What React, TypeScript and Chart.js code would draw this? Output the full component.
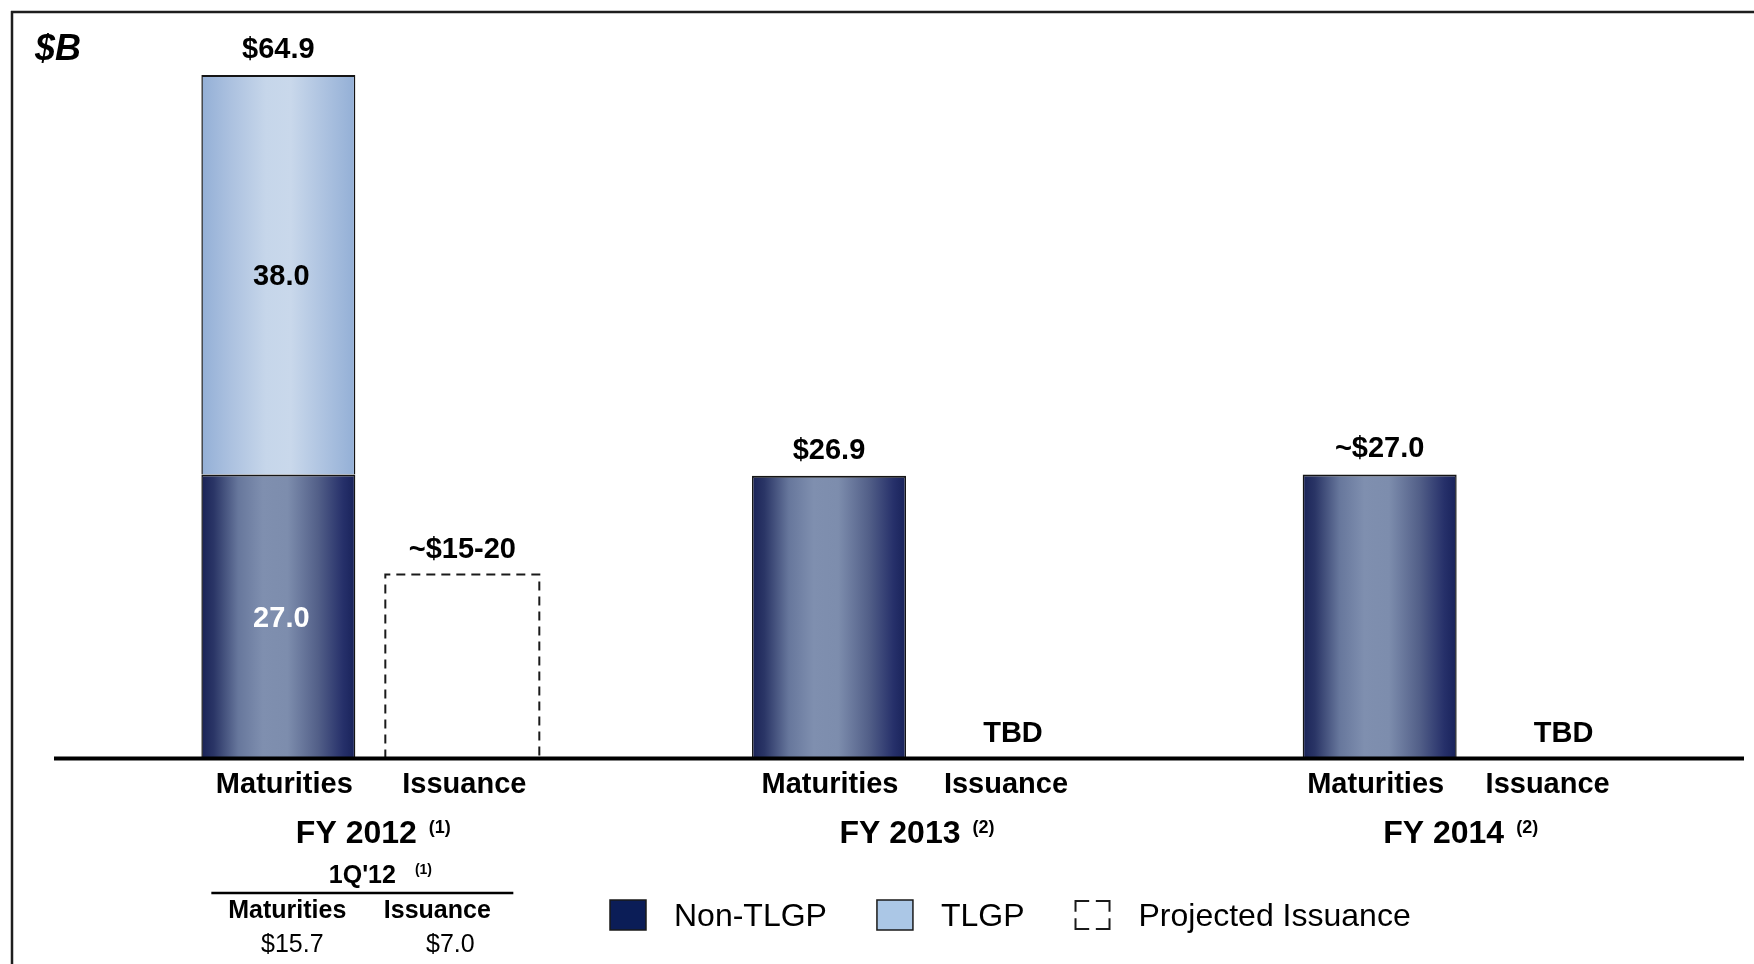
import React, { useEffect, useRef } from 'react';
import { Chart, registerables } from 'chart.js';

Chart.register(...registerables);

// ---- data ----
const groups = ['FY 2012', 'FY 2013', 'FY 2014'];
const groupNotes = ['(1)', '(2)', '(2)'];
const barNames = ['Maturities', 'Issuance'];
const nonTlgp = [27.0, 26.9, 27.0];
const tlgp: (number | null)[] = [38.0, null, null];
const projectedIssuance: (number | null)[] = [17.5, null, null];
const maturityTotals = ['$64.9', '$26.9', '~$27.0'];
const issuanceTexts = ['~$15-20', 'TBD', 'TBD'];
const nonTlgpTexts = ['27.0', '', ''];
const tlgpTexts = ['38.0', '', ''];
const legendNames = ['Non-TLGP', 'TLGP', 'Projected Issuance'];
const unitLabel = '$B';
const quarterTitle = "1Q'12";
const quarterNote = '(1)';
const quarterHeads = ['Maturities', 'Issuance'];
const quarterValues = ['$15.7', '$7.0'];

// ---- styling ----
const FONT = '"Liberation Sans", Arial, Helvetica, sans-serif';
const CAT_PCT = 0.6682;
const BAR_PCT = 0.837;
const NAVY_STOPS: [number, string][] = [
  [0, '#1a2357'],
  [0.08, '#2a3566'],
  [0.24, '#67779c'],
  [0.4, '#7f8faf'],
  [0.56, '#7d8dad'],
  [0.76, '#525f88'],
  [0.92, '#26306a'],
  [1, '#18225a'],
];
const SKY_STOPS: [number, string][] = [
  [0, '#93afd6'],
  [0.2, '#adc2e0'],
  [0.42, '#c6d6ea'],
  [0.58, '#c9d8eb'],
  [0.78, '#afc4e1'],
  [1, '#93afd6'],
];

function drawText(
  ctx: CanvasRenderingContext2D,
  str: string,
  x: number,
  cy: number,
  size: number,
  opts: { weight?: string; style?: string; color?: string; align?: CanvasTextAlign } = {}
) {
  const { weight = 'bold', style = 'normal', color = '#000', align = 'center' } = opts;
  ctx.font = `${style} ${weight} ${size}px ${FONT}`;
  ctx.fillStyle = color;
  ctx.textAlign = align;
  ctx.textBaseline = 'alphabetic';
  ctx.fillText(str, x, cy + size * 0.358);
}

function textWidth(ctx: CanvasRenderingContext2D, str: string, size: number, weight = 'bold') {
  ctx.font = `normal ${weight} ${size}px ${FONT}`;
  return ctx.measureText(str).width;
}

// Horizontal cylinder-style shading on the maturity bars
const barShade = {
  id: 'barShade',
  afterDatasetsUpdate(chart: any) {
    const ctx: CanvasRenderingContext2D = chart.ctx;
    [0, 1].forEach((di) => {
      const stops = di === 0 ? NAVY_STOPS : SKY_STOPS;
      chart.getDatasetMeta(di).data.forEach((el: any) => {
        const x = el.x;
        const w = el.width;
        if (!isFinite(x) || !w) return;
        const g = ctx.createLinearGradient(x - w / 2, 0, x + w / 2, 0);
        stops.forEach(([o, c]) => g.addColorStop(o, c));
        el.options = { ...el.options, backgroundColor: g };
      });
    });
  },
};

const annotations = {
  id: 'annotations',
  afterDatasetsDraw(chart: any) {
    const ctx: CanvasRenderingContext2D = chart.ctx;
    const xs = chart.scales.x;
    const ys = chart.scales.y;
    const base = ys.getPixelForValue(0);
    const mNon = chart.getDatasetMeta(0);
    const mTl = chart.getDatasetMeta(1);
    const mProj = chart.getDatasetMeta(2);

    ctx.save();

    // dashed outline for projected issuance
    mProj.data.forEach((el: any, i: number) => {
      if (projectedIssuance[i] == null) return;
      const l = el.x - el.width / 2;
      const r = el.x + el.width / 2;
      ctx.beginPath();
      ctx.setLineDash([9, 6]);
      ctx.lineWidth = 2;
      ctx.strokeStyle = '#1a1a1a';
      ctx.moveTo(l, base);
      ctx.lineTo(l, el.y);
      ctx.lineTo(r, el.y);
      ctx.lineTo(r, base);
      ctx.stroke();
    });
    ctx.setLineDash([]);

    // baseline
    ctx.beginPath();
    ctx.lineWidth = 4;
    ctx.strokeStyle = '#000';
    ctx.moveTo(54, base);
    ctx.lineTo(1744, base);
    ctx.stroke();

    groups.forEach((_, i) => {
      const nEl = mNon.data[i];
      const tEl = mTl.data[i];
      const pEl = mProj.data[i];

      // values above and inside the bars
      const topEl = tlgp[i] != null ? tEl : nEl;
      drawText(ctx, maturityTotals[i], nEl.x, topEl.y - 27.5, 29);
      if (nonTlgpTexts[i]) drawText(ctx, nonTlgpTexts[i], nEl.x + 3, (nEl.y + nEl.base) / 2, 29, { color: '#fff' });
      if (tlgpTexts[i] && tlgp[i] != null) drawText(ctx, tlgpTexts[i], tEl.x + 3, (tEl.y + tEl.base) / 2, 29);
      const pTop = projectedIssuance[i] != null ? pEl.y : base;
      drawText(ctx, issuanceTexts[i], pEl.x, pTop - 26.5, 29);

      // bar names under the axis (the label row is set slightly tighter than the bars)
      drawText(ctx, barNames[0], nEl.x + 6 - 5 * i, base + 24.5, 29);
      drawText(ctx, barNames[1], pEl.x + 2 - 9 * i, base + 24.5, 29);

      // group label with footnote marker
      const cx = xs.getPixelForValue(i) + 3 - 7 * i;
      const wMain = textWidth(ctx, groups[i], 32);
      const wNote = textWidth(ctx, groupNotes[i], 18);
      const gap = 12;
      const start = cx - (wMain + gap + wNote) / 2;
      drawText(ctx, groups[i], start, base + 73.5, 32, { align: 'left' });
      drawText(ctx, groupNotes[i], start + wMain + gap, base + 68, 18, { align: 'left' });
    });

    // first-quarter table under FY 2012
    const tc = xs.getPixelForValue(0) - 8;
    drawText(ctx, quarterTitle, tc, base + 115.5, 25);
    const wq = textWidth(ctx, quarterTitle, 25);
    drawText(ctx, quarterNote, tc + wq / 2 + 19, base + 110, 14, { align: 'left' });
    ctx.beginPath();
    ctx.lineWidth = 2.5;
    ctx.strokeStyle = '#000';
    ctx.moveTo(tc - 151, base + 134.5);
    ctx.lineTo(tc + 151, base + 134.5);
    ctx.stroke();
    drawText(ctx, quarterHeads[0], tc - 75, base + 150.5, 25);
    drawText(ctx, quarterHeads[1], tc + 75, base + 150.5, 25);
    drawText(ctx, quarterValues[0], tc - 70, base + 184.5, 25, { weight: 'normal' });
    drawText(ctx, quarterValues[1], tc + 88, base + 184.5, 25, { weight: 'normal' });

    // legend
    const ly = base + 156.5;
    let lx = 610;
    const bw = 36;
    const bh = 30;
    legendNames.forEach((name, k) => {
      const top = ly - bh / 2;
      if (k === 0 || k === 1) {
        ctx.fillStyle = k === 0 ? '#0b1d57' : '#abc7e6';
        ctx.fillRect(lx, top, bw, bh);
        ctx.lineWidth = 1.5;
        ctx.strokeStyle = '#1a1a1a';
        ctx.strokeRect(lx, top, bw, bh);
      } else {
        ctx.lineWidth = 2;
        ctx.strokeStyle = '#1a1a1a';
        const ax = bw * 0.38;
        const ay = bh * 0.36;
        const l = lx + 1, r = lx + bw - 1, t = top + 1, b = top + bh - 1;
        ctx.beginPath();
        ctx.moveTo(l, t + ay); ctx.lineTo(l, t); ctx.lineTo(l + ax, t);
        ctx.moveTo(r - ax, t); ctx.lineTo(r, t); ctx.lineTo(r, t + ay);
        ctx.moveTo(r, b - ay); ctx.lineTo(r, b); ctx.lineTo(r - ax, b);
        ctx.moveTo(l + ax, b); ctx.lineTo(l, b); ctx.lineTo(l, b - ay);
        ctx.stroke();
      }
      const tx = lx + 64;
      drawText(ctx, name, tx, ly, 32, { weight: 'normal', align: 'left' });
      lx = tx + textWidth(ctx, name, 32, 'normal') + 50;
    });

    ctx.restore();
  },
  afterDraw(chart: any) {
    const ctx: CanvasRenderingContext2D = chart.ctx;
    ctx.save();
    ctx.strokeStyle = '#1e1e1e';
    ctx.lineWidth = 2.5;
    ctx.beginPath();
    ctx.moveTo(11, 12);
    ctx.lineTo(chart.width, 12);
    ctx.moveTo(12, 11);
    ctx.lineTo(12, chart.height);
    ctx.stroke();
    drawText(ctx, unitLabel, 35, 47, 36, { style: 'italic', align: 'left' });
    ctx.restore();
  },
};

export default function App() {
  const canvasRef = useRef<HTMLCanvasElement>(null);

  useEffect(() => {
    const canvas = canvasRef.current;
    if (!canvas) return;
    const border = { top: 2, left: 1.5, right: 1.5, bottom: 0 };
    const chart = new Chart(canvas, {
      type: 'bar',
      data: {
        labels: groups,
        datasets: [
          {
            label: legendNames[0],
            data: nonTlgp,
            stack: 'maturities',
            backgroundColor: '#0b1d57',
            borderColor: '#151515',
            borderWidth: border,
            categoryPercentage: CAT_PCT,
            barPercentage: BAR_PCT,
          },
          {
            label: legendNames[1],
            data: tlgp,
            stack: 'maturities',
            backgroundColor: '#abc7e6',
            borderColor: '#151515',
            borderWidth: border,
            categoryPercentage: CAT_PCT,
            barPercentage: BAR_PCT,
          },
          {
            label: legendNames[2],
            data: projectedIssuance,
            stack: 'issuance',
            backgroundColor: 'rgba(0,0,0,0)',
            borderWidth: 0,
            categoryPercentage: CAT_PCT,
            barPercentage: BAR_PCT,
          },
        ],
      } as any,
      options: {
        animation: false,
        responsive: false,
        devicePixelRatio: 1,
        layout: { padding: { left: 95, right: 7, top: 22.5, bottom: 205.5 } },
        scales: {
          x: { stacked: true, display: false, grid: { display: false } },
          y: { stacked: true, display: false, min: 0, max: 70, grid: { display: false } },
        },
        plugins: {
          legend: { display: false },
          tooltip: { enabled: false },
        },
      },
      plugins: [barShade, annotations],
    });
    return () => chart.destroy();
  }, []);

  return (
    <div style={{ position: 'fixed', left: 0, top: 0, width: 1754, height: 964, background: '#fff' }}>
      <canvas ref={canvasRef} width={1754} height={964} style={{ display: 'block', width: 1754, height: 964 }} />
    </div>
  );
}
